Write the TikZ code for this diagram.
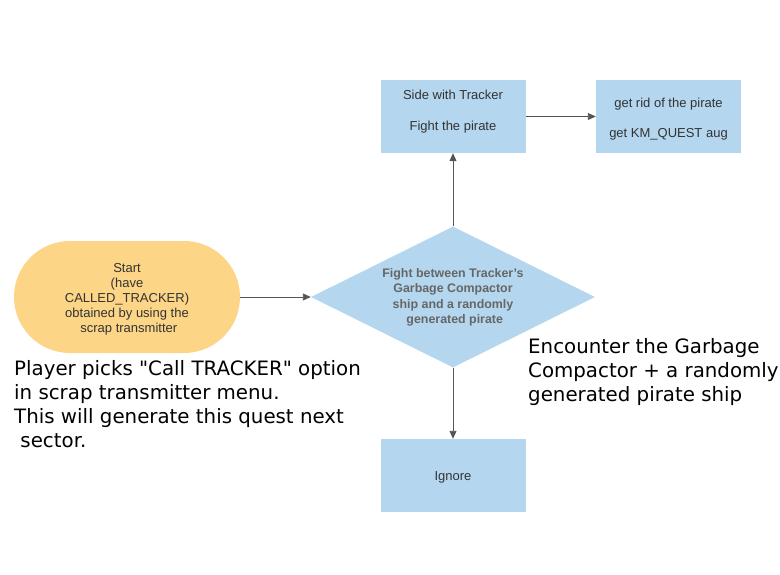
\documentclass[tikz,border=0pt]{standalone}
\usepackage{fontspec}
\setmainfont{Liberation Sans}
\newfontfamily\notefont{DejaVu Sans}
\usetikzlibrary{shapes.geometric,arrows.meta}
\definecolor{ovalfill}{HTML}{FCD586}
\definecolor{boxfill}{HTML}{B4D7EF}
\definecolor{txt}{HTML}{333333}
\definecolor{dtxt}{HTML}{666666}
\definecolor{arrowc}{HTML}{555555}
\tikzset{
  x=1pt,y=-1pt,
  boxstyle/.style={draw=none,fill=boxfill,minimum width=145pt,minimum height=73pt,inner sep=0pt,align=center,text=txt,font=\fontsize{13}{15}\selectfont},
  boxtext/.style={inner sep=0pt,align=center,text=txt,font=\fontsize{13}{15}\selectfont},
  ovalstyle/.style={draw=none,fill=ovalfill,minimum width=226pt,minimum height=112pt,inner sep=0pt,rounded corners=56pt},
  diamstyle/.style={diamond,draw=none,fill=boxfill,minimum width=284pt,minimum height=141pt,inner sep=0pt},
  diamtext/.style={inner sep=0pt,align=center,text=dtxt,font=\bfseries\fontsize{12.4}{15.5}\selectfont},
  conn/.style={draw=arrowc,line width=0.9pt,-{Triangle[length=8pt,width=7pt]}},
  note/.style={anchor=north west,align=left,inner sep=0pt,font=\notefont\fontsize{19.8}{24}\selectfont,text=black}
}
\begin{document}
\begin{tikzpicture}
\useasboundingbox (0,0) rectangle (780,574);
\node[ovalstyle] (start) at (127,297) {};
\node[boxtext] (starttxt) at (127,299) {Start\\(have\\CALLED\_TRACKER)\\obtained by using the\\\mbox{}\ scrap transmitter};
\node[diamstyle] (fight) at (453,297) {};
\node[diamtext] (fighttxt) at (453,297.5) {Fight between Tracker's\\Garbage Compactor\\ship and a randomly\\\mbox{}\ generated pirate};
\node[boxstyle] (side) at (453,116.5) {};
\node[boxtext] (sidetxt) at (453,111.5) {Side with Tracker\\[16pt]Fight the pirate};
\node[boxstyle] (rid) at (668.5,116.5) {};
\node[boxtext] (ridtxt) at (668.5,119) {get rid of the pirate\\[15pt]get KM\_QUEST aug};
\node[boxstyle] (ignore) at (453,475.5) {};
\node[boxtext] (ignoretxt) at (453,477.5) {Ignore};
\draw[conn] (start.east) -- (fight.west);
\draw[conn] (fight.north) -- (side.south);
\draw[conn] (side.east) -- (rid.west);
\draw[conn] (fight.south) -- (ignore.north);
\node[note] (n1) at (14,360) {Player picks "Call TRACKER" option\\in scrap transmitter menu.\\This will generate this quest next\\\mbox{}\ sector.};
\node[note] (n2) at (528,338.5) {Encounter the Garbage\\Compactor + a randomly\\generated pirate ship};
\end{tikzpicture}
\end{document}
